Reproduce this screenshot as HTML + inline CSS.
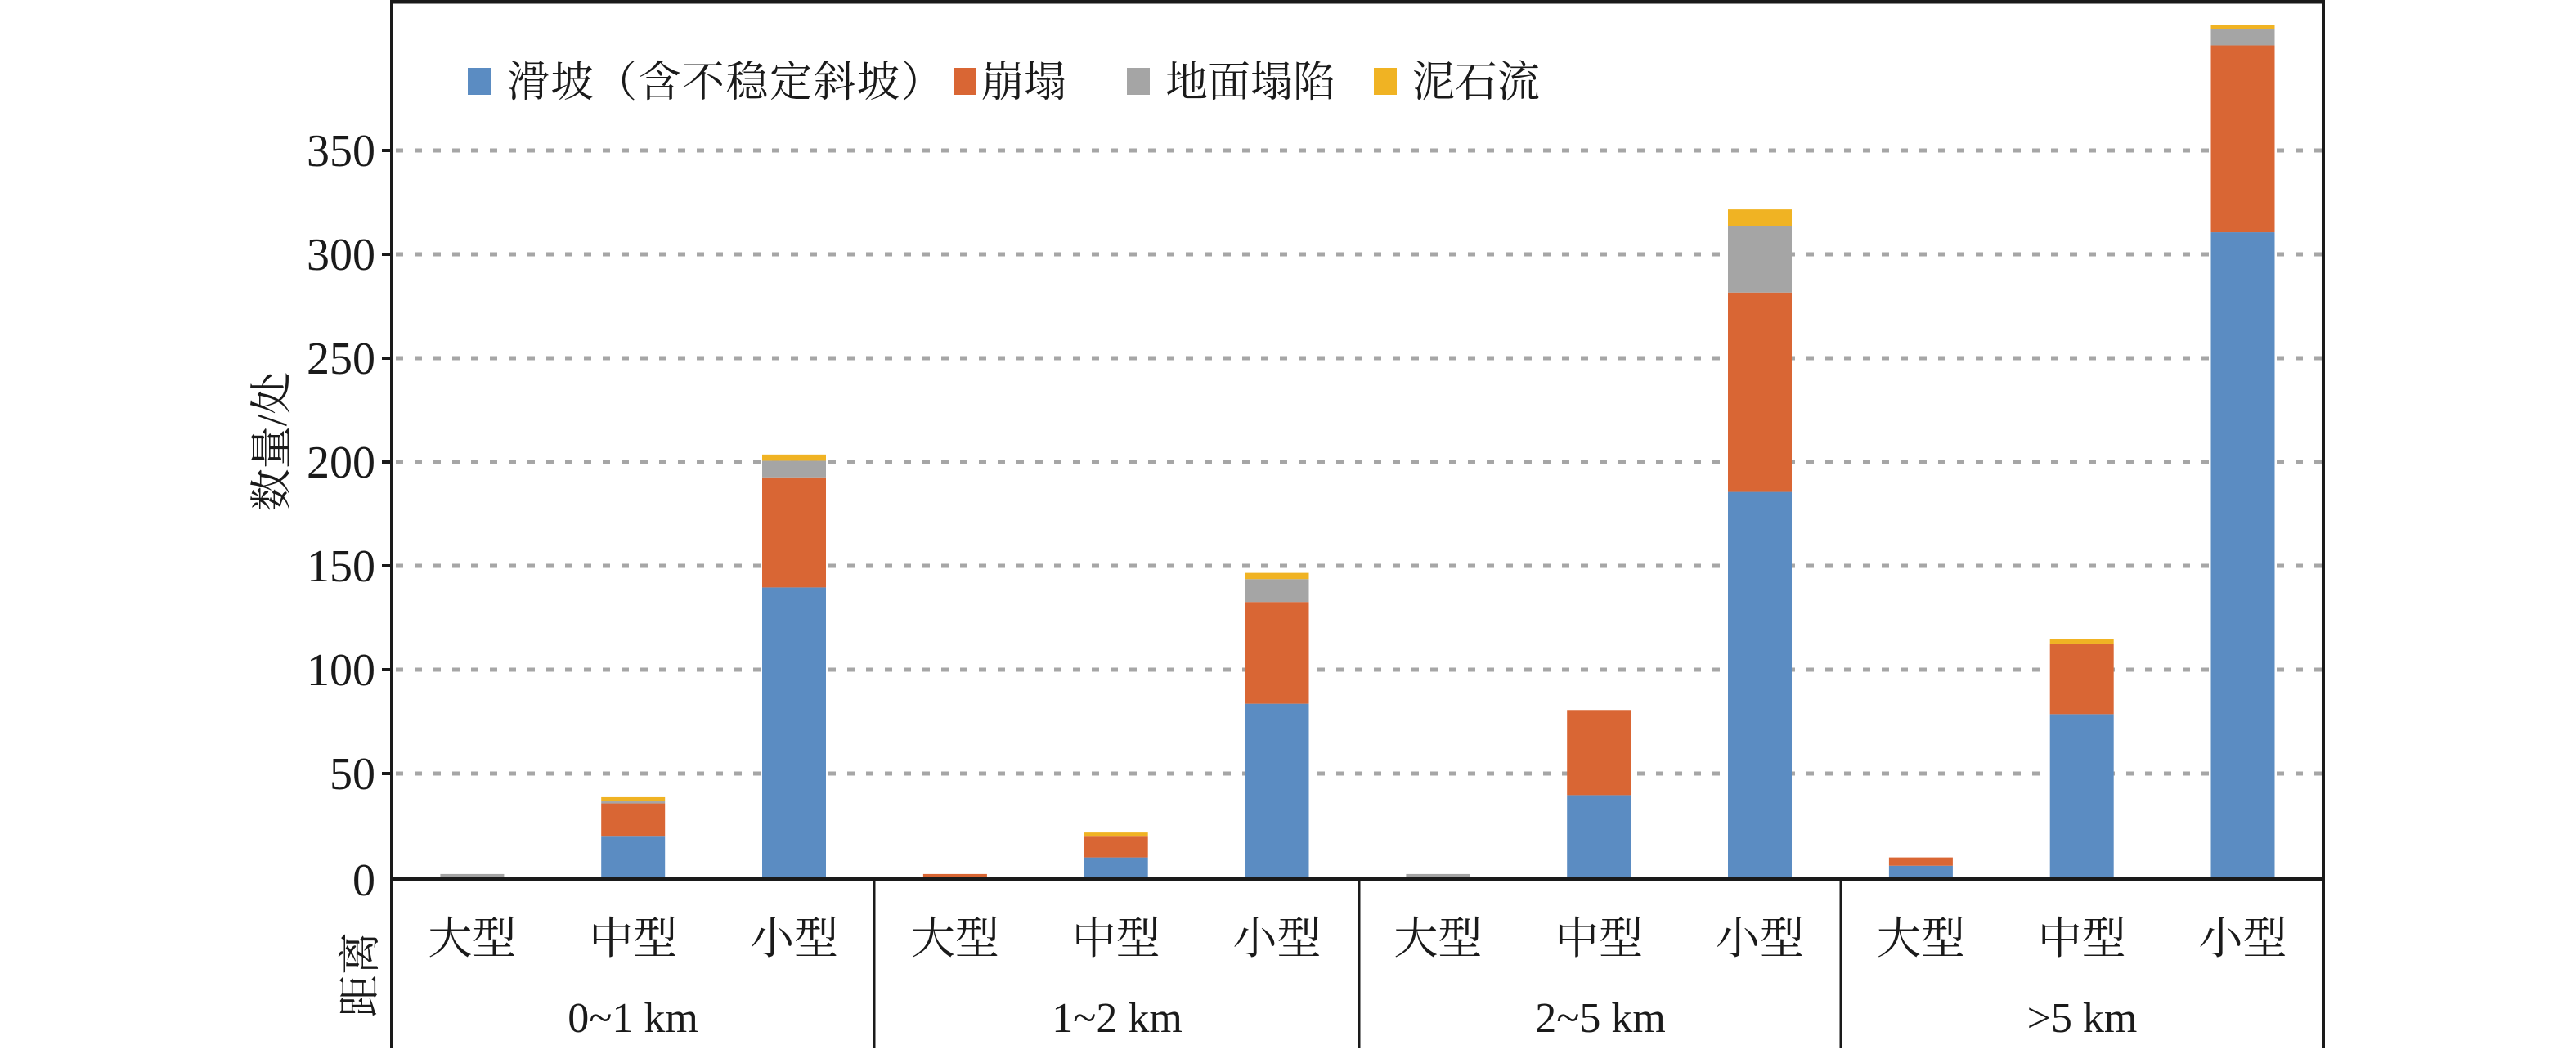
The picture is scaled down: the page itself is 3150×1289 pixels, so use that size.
<!DOCTYPE html>
<html><head><meta charset="utf-8"><style>
html,body{margin:0;padding:0;background:#fff;}
svg{display:block;}
text{font-family:"Liberation Serif","Noto Serif CJK SC",serif;fill:#1a1a1a;}
</style></head><body>
<svg width="3150" height="1289" viewBox="0 0 3150 1289" xmlns="http://www.w3.org/2000/svg">
<g stroke="#a6a6a6" stroke-width="5" stroke-dasharray="9,14">
<line x1="484" y1="184" x2="2839" y2="184"/>
<line x1="484" y1="311" x2="2839" y2="311"/>
<line x1="484" y1="438" x2="2839" y2="438"/>
<line x1="484" y1="565" x2="2839" y2="565"/>
<line x1="484" y1="692" x2="2839" y2="692"/>
<line x1="484" y1="819" x2="2839" y2="819"/>
<line x1="484" y1="946" x2="2839" y2="946"/>
</g>
<g id="bars"></g>
<g stroke="#1a1a1a" fill="none">
<line x1="479" y1="0" x2="479" y2="1282" stroke-width="4"/>
<line x1="2841" y1="0" x2="2841" y2="1282" stroke-width="4"/>
<line x1="477" y1="2" x2="2843" y2="2" stroke-width="5"/>
<line x1="477" y1="1075" x2="2843" y2="1075" stroke-width="5"/>
<line x1="1069" y1="1075" x2="1069" y2="1282" stroke-width="3"/>
<line x1="1662" y1="1075" x2="1662" y2="1282" stroke-width="3"/>
<line x1="2251" y1="1075" x2="2251" y2="1282" stroke-width="3"/>
<g stroke-width="4">
<line x1="467" y1="184" x2="479" y2="184"/><line x1="467" y1="311" x2="479" y2="311"/>
<line x1="467" y1="438" x2="479" y2="438"/><line x1="467" y1="565" x2="479" y2="565"/>
<line x1="467" y1="692" x2="479" y2="692"/><line x1="467" y1="819" x2="479" y2="819"/>
<line x1="467" y1="946" x2="479" y2="946"/>
</g>
</g>
<g font-size="56" text-anchor="end">
<text x="459" y="203">350</text><text x="459" y="330">300</text><text x="459" y="457">250</text>
<text x="459" y="584">200</text><text x="459" y="711">150</text><text x="459" y="838">100</text>
<text x="459" y="965">50</text><text x="459" y="1095">0</text>
</g>
<text transform="translate(350,540) rotate(-90)" font-size="52" text-anchor="middle">数量/处</text>
<text transform="translate(458,1192) rotate(-90)" font-size="52" text-anchor="middle">距离</text>
<g font-size="54" text-anchor="middle" id="cats"></g>
<g font-size="52" text-anchor="middle">
<text x="774" y="1262">0~1 km</text>
<text x="1366" y="1262">1~2 km</text>
<text x="1957" y="1262">2~5 km</text>
<text x="2546" y="1262">&gt;5 km</text>
</g>
<g font-size="52">
<rect x="572" y="83" width="28" height="33" fill="#5b8cc2"/>
<text x="620" y="118" letter-spacing="1.5">滑坡（含不稳定斜坡）</text>
<rect x="1166" y="83" width="28" height="33" fill="#d96634"/>
<text x="1200" y="118">崩塌</text>
<rect x="1378" y="83" width="28" height="33" fill="#a5a5a5"/>
<text x="1425" y="118">地面塌陷</text>
<rect x="1680" y="83" width="28" height="33" fill="#f0b323"/>
<text x="1727" y="118">泥石流</text>
</g>
<script>
var data=[[0,0,2,0],[20,16,1,2],[140,53,8,3],
[0,2,0,0],[10,10,0,2],[84,49,11,3],
[0,0,2,0],[40,41,0,0],[186,96,32,8],
[6,4,0,0],[79,34,0,2],[311,90,8,2]];
var cols=["#5b8cc2","#d96634","#a5a5a5","#f0b323"];
var g=document.getElementById("bars"),c=document.getElementById("cats");
var ns="http://www.w3.org/2000/svg",names=["大型","中型","小型"];
for(var i=0;i<12;i++){
 var cx=479+590.5*Math.floor(i/3)+98.4*(2*(i%3)+1);
 var base=0;
 for(var k=0;k<4;k++){var v=data[i][k];if(!v)continue;
  var r=document.createElementNS(ns,"rect");
  r.setAttribute("x",cx-39);r.setAttribute("width",78);
  r.setAttribute("y",1074-(base+v)*2.54);r.setAttribute("height",v*2.54);
  r.setAttribute("fill",cols[k]);g.appendChild(r);base+=v;}
 var t=document.createElementNS(ns,"text");t.setAttribute("x",cx);t.setAttribute("y",1166);
 t.textContent=names[i%3];c.appendChild(t);
}
</script>
</svg>
</body></html>
